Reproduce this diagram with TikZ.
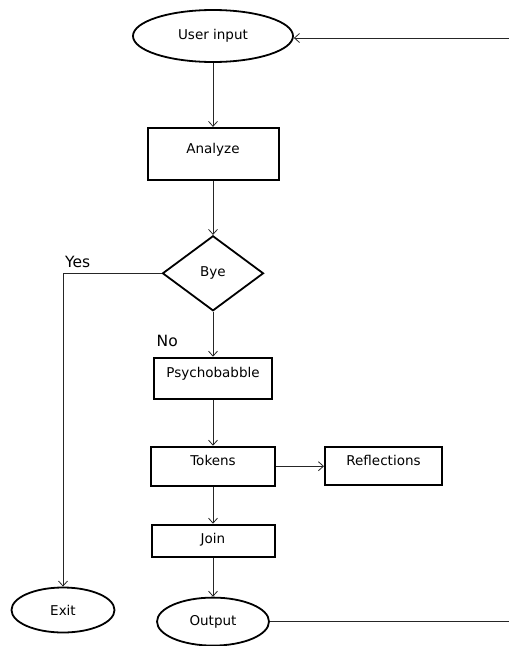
\documentclass[tikz,border=0pt]{standalone}
\usepackage{fontspec}
\setmainfont{DejaVu Sans}
\usepackage{tikz}
\usetikzlibrary{arrows.meta,positioning,shapes.geometric}

\begin{document}
\begin{tikzpicture}[
  x=1pt, y=1pt,
  font=\fontsize{13.5}{16}\selectfont,
  box/.style={draw, line width=2pt, align=center, inner sep=2pt, text height=10pt, text depth=11pt},
  term/.style={draw, ellipse, line width=1.8pt, inner sep=1pt},
  decision/.style={draw, diamond, line width=1.8pt, inner sep=0pt, aspect=1.35},
  lbl/.style={font=\fontsize{15.5}{18}\selectfont, inner sep=2pt},
  arr/.style={-{Straight Barb[length=5pt,width=9pt]}, line width=0.8pt, draw=black!85},
  wire/.style={line width=0.8pt, draw=black!85}
]
\useasboundingbox (0,0) rectangle (509,-646);

\node[term, minimum width=160pt, minimum height=52pt] (input) at (213,-36) {User input};
\node[box, below=64pt of input, minimum width=131pt, minimum height=52pt] (analyze) {Analyze};
\node[decision, below=54pt of analyze, minimum width=101pt, minimum height=75pt] (bye) {Bye};
\node[box, below=45pt of bye, minimum width=118pt, minimum height=41pt] (psycho) {Psychobabble};
\node[box, below=46pt of psycho, minimum width=124pt, minimum height=39pt] (tokens) {Tokens};
\node[box, right=48pt of tokens, minimum width=117pt, minimum height=38pt] (reflect) {Reflections};
\node[box, below=37pt of tokens, minimum width=123pt, minimum height=32pt, text depth=4pt] (join) {Join};
\node[term, below=39pt of join, minimum width=112pt, minimum height=48pt] (output) {Output};
\node[term, minimum width=103pt, minimum height=45pt] (exit) at (63,-610) {Exit};

% loop ends at the picture edge
\coordinate (backin) at (509,-38);
\coordinate (backout) at (output.east -| backin);

\draw[arr] (input) -- (analyze);
\draw[arr] (analyze) -- (bye);
\draw[arr] (bye) -- (psycho);
\draw[arr] (psycho) -- (tokens);
\draw[arr] (tokens) -- (reflect);
\draw[arr] (tokens) -- (join);
\draw[arr] (join) -- (output);
\draw[arr] (bye.west) -| (exit.north);
\draw[arr] (backin) -- (input.east |- backin);
\draw[wire] (output.east) -- (backout);

\node[lbl, anchor=south west] (yes) at ([yshift=3pt]bye.west -| exit.north) {Yes};
\node[lbl, anchor=north east] (no) at ([xshift=-33pt,yshift=-21pt]bye.south) {No};

\end{tikzpicture}
\end{document}
